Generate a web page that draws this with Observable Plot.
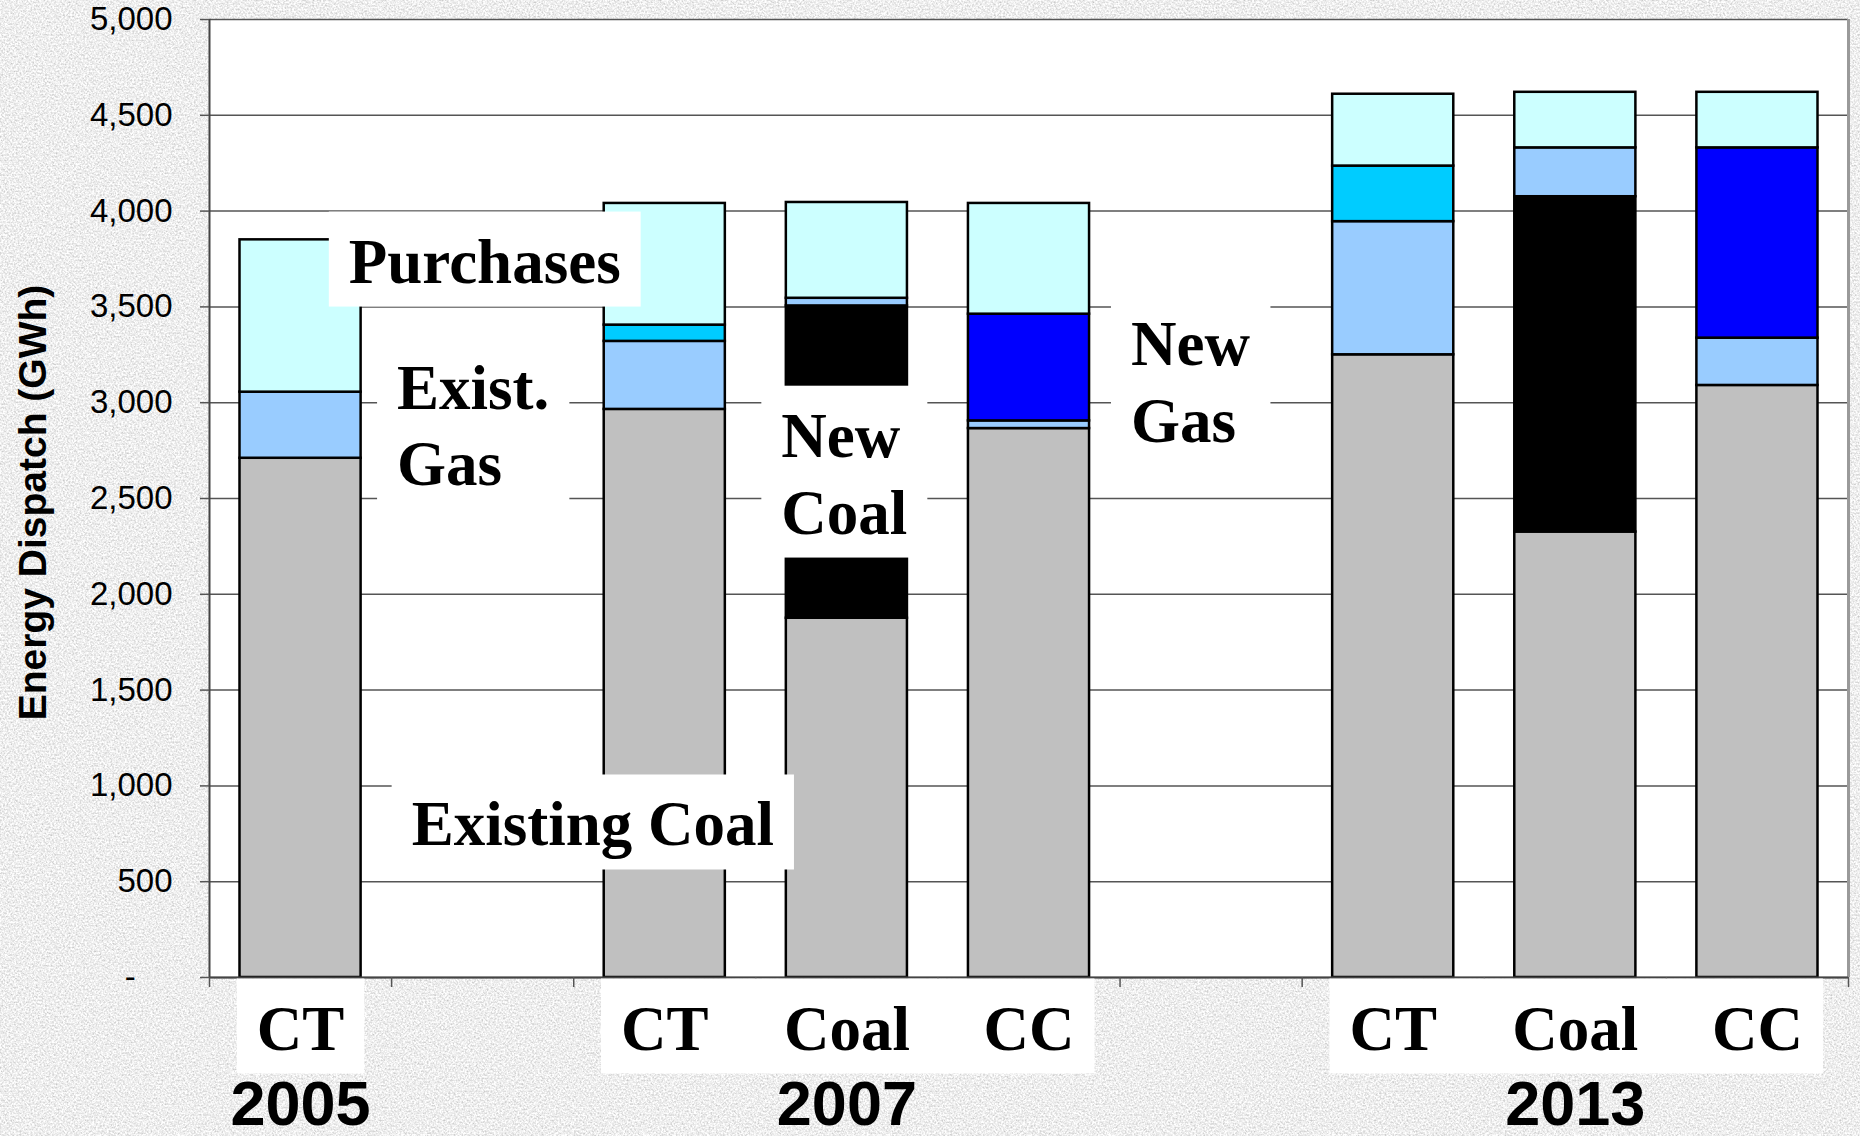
<!DOCTYPE html>
<html>
<head>
<meta charset="utf-8">
<script src="https://cdn.jsdelivr.net/npm/d3@7"></script>
<script src="https://cdn.jsdelivr.net/npm/@observablehq/plot@0.6"></script>
<style>
  html, body { margin: 0; padding: 0; }
  body { width: 1860px; height: 1136px; overflow: hidden; background-color: #d9d9d9; }
  #chart svg { display: block; }
</style>
</head>
<body>
<div id="chart"></div>
<script>
// ---------------- data ----------------
const scenarios = ["2005 CT", "2007 CT", "2007 Coal", "2007 CC", "2013 CT", "2013 Coal", "2013 CC"];
// x-axis layout: scenario slots with empty slots between the years
const xSlots = ["2005 CT", "", "2007 CT", "2007 Coal", "2007 CC", "", "2013 CT", "2013 Coal", "2013 CC"];
const barLabels = ["CT", "CT", "Coal", "CC", "CT", "Coal", "CC"];
const scenarioYears = ["2005", "2007", "2007", "2007", "2013", "2013", "2013"];
const years = ["2005", "2007", "2013"];

const seriesNames = ["Existing Coal", "New Coal", "Existing Gas", "New CT", "New CC", "Purchases"];
const seriesColors = ["#c0c0c0", "#000000", "#99ccff", "#00ccff", "#0000ff", "#ccffff"];

const existingCoal = [2710, 2965, 1875, 2865, 3250, 2325, 3090];
const newCoal      = [   0,    0, 1630,    0,    0, 1750,    0];
const existingGas  = [ 345,  355,   40,   40,  695,  255,  247];
const newCT        = [   0,   85,    0,    0,  290,    0,    0];
const newCC        = [   0,    0,    0,  557,    0,    0,  993];
const purchases    = [ 795,  635,  500,  578,  375,  290,  290];

const yTicks = [0, 500, 1000, 1500, 2000, 2500, 3000, 3500, 4000, 4500, 5000];
const yLabel = "Energy Dispatch (GWh)";

// in-chart annotations (x in slot units, y in GWh at the last baseline)
const annoText  = ["Purchases", "Exist.\nGas", "New\nCoal", "New\nGas", "Existing Coal"];
const annoSlot  = [0.765, 1.03, 3.14, 5.06, 1.11];
const annoValue = [3627, 2568, 2317, 2797, 689];

// ---------------- table ----------------
const seriesValues = [existingCoal, newCoal, existingGas, newCT, newCC, purchases];
const table = [];
scenarios.forEach((s, i) => {
  let acc = 0;
  const slot = xSlots.indexOf(s);
  seriesNames.forEach((name, k) => {
    const v = seriesValues[k][i];
    if (v > 0) table.push({scenario: s, series: name, slot, y1: acc, y2: acc + v});
    acc += v;
  });
});
const labelRows = scenarios.map((s, i) => ({label: barLabels[i], year: scenarioYears[i], slot: xSlots.indexOf(s)}));
const yearRows = years.map(y => {
  const slots = labelRows.filter(r => r.year === y).map(r => r.slot);
  return {year: y, slot: d3.mean(slots)};
});
const annotations = annoText.map((t, i) => ({text: t, x: annoSlot[i], y: annoValue[i]}));

// ---------------- chart ----------------
const serif = "'Liberation Serif', 'Times New Roman', serif";
const sans = "'Liberation Sans', Arial, sans-serif";
const W = 1860, H = 1136;
const fmt = d => d === 0 ? "-\u2007\u2007" : d3.format(",")(d);

const annoMarks = annotations.map(a => Plot.text([a], {x: "x", y: "y", text: "text", textAnchor: "start",
  lineAnchor: "bottom", lineHeight: 1.22, fontSize: 63, fontFamily: serif, fontWeight: "bold", fill: "#000"}));
const catMarks = years.map(y => Plot.text(labelRows.filter(r => r.year === y), {x: d => d.slot + 0.5, text: "label",
  frameAnchor: "bottom", dy: 72, lineAnchor: "bottom", fontSize: 63, fontFamily: serif,
  fontWeight: "bold", fill: "#000"}));
const nBoxed = annoMarks.length + catMarks.length;

const marks = [
  Plot.frame({fill: "white", stroke: null}),
  Plot.gridY(yTicks, {stroke: "#555", strokeOpacity: 1, strokeWidth: 1.5}),
  Plot.ruleX([xSlots.length], {stroke: "#9a9a9a", strokeWidth: 3}),
  Plot.rect(table, {x1: "slot", x2: d => d.slot + 1, y1: "y1", y2: "y2", fill: "series",
    stroke: "#000", strokeWidth: 2.5, insetLeft: 30.5, insetRight: 30.5}),
  Plot.ruleY([0], {stroke: "#444", strokeWidth: 2}),
  Plot.ruleX([0], {stroke: "#444", strokeWidth: 2}),
  Plot.axisY(yTicks, {tickSize: 9, tickPadding: 28, tickFormat: fmt, stroke: "#555", strokeWidth: 1.5,
    fontSize: 33, fontFamily: sans, label: null}),
  Plot.axisX(d3.range(xSlots.length + 1), {tickSize: 10, tickFormat: () => "", stroke: "#555",
    strokeWidth: 1.5, label: null}),
  ...annoMarks,
  ...catMarks,
  Plot.text(yearRows, {x: d => d.slot + 0.5, text: "year", frameAnchor: "bottom", dy: 147,
    lineAnchor: "bottom", fontSize: 63, fontFamily: sans, fontWeight: "bold", fill: "#000"}),
  Plot.text([yLabel], {text: d => d, frameAnchor: "left", dx: -164, dy: 4, rotate: -90,
    textAnchor: "middle", lineAnchor: "bottom", fontSize: 39, fontFamily: sans, fontWeight: "bold", fill: "#000"})
];

const chart = Plot.plot({
  width: W,
  height: H,
  marginLeft: 209,
  marginRight: 12,
  marginTop: 19,
  marginBottom: 159,
  style: {background: "transparent", fontFamily: sans, fontSize: "33px", overflow: "visible"},
  x: {type: "linear", domain: [0, xSlots.length]},
  y: {domain: [0, 5000]},
  color: {domain: seriesNames, range: seriesColors},
  marks
});
document.getElementById("chart").appendChild(chart);

const NS = "http://www.w3.org/2000/svg";

// ---------------- white label boxes behind annotation / category texts ----------------
const svgRect = chart.getBoundingClientRect();
const textGroups = Array.from(chart.querySelectorAll('g[aria-label="text"]')).slice(0, nBoxed);
textGroups.forEach(g => {
  let x0 = Infinity, y0 = Infinity, x1 = -Infinity, y1 = -Infinity;
  g.querySelectorAll("text").forEach(t => {
    const r = t.getBoundingClientRect();
    x0 = Math.min(x0, r.left - svgRect.left); x1 = Math.max(x1, r.right - svgRect.left);
    y0 = Math.min(y0, r.top - svgRect.top); y1 = Math.max(y1, r.bottom - svgRect.top);
  });
  const rect = document.createElementNS(NS, "rect");
  rect.setAttribute("x", x0 - 20); rect.setAttribute("y", y0 - 15);
  rect.setAttribute("width", x1 - x0 + 40); rect.setAttribute("height", y1 - y0 + 25);
  rect.setAttribute("fill", "white");
  g.parentNode.insertBefore(rect, g);
});

// ---------------- granite-like page texture (drawn first, behind everything) ----------------
const defs = document.createElementNS(NS, "defs");
defs.innerHTML = `<filter id="granite" x="0" y="0" width="100%" height="100%" filterUnits="userSpaceOnUse">
  <feTurbulence type="fractalNoise" baseFrequency="0.55" numOctaves="3" seed="7" result="t"/>
  <feColorMatrix in="t" type="matrix" values="0.75 0 0 0 0.48  0.75 0 0 0 0.48  0.75 0 0 0 0.48  0 0 0 0 1"/>
</filter>`;
const bg = document.createElementNS(NS, "rect");
bg.setAttribute("x", 0); bg.setAttribute("y", 0);
bg.setAttribute("width", W); bg.setAttribute("height", H);
bg.setAttribute("fill", "#dcdcdc");
bg.setAttribute("filter", "url(#granite)");
chart.insertBefore(bg, chart.firstChild);
chart.insertBefore(defs, chart.firstChild);
</script>
</body>
</html>
